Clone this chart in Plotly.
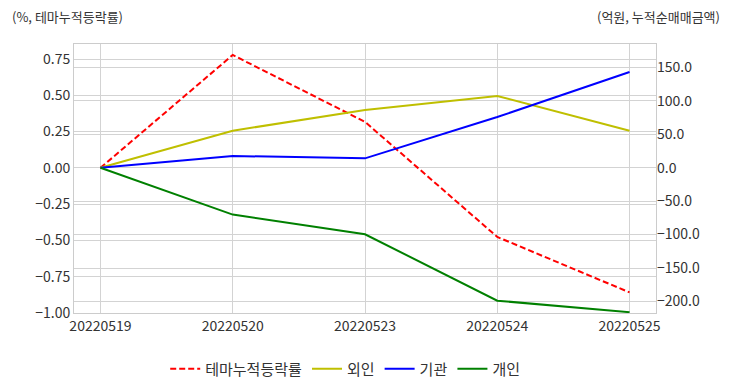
import plotly.graph_objects as go

dates = ["20220519", "20220520", "20220523", "20220524", "20220525"]
theme_rate = [0.0, 0.778, 0.317, -0.476, -0.858]
foreign = [0.0, 55.3, 86.2, 107.2, 55.3]
institution = [0.0, 17.5, 14.0, 75.7, 143.0]
individual = [0.0, -70.1, -99.5, -198.8, -216.0]

FONT = "Noto Sans CJK KR"
fig = go.Figure()
fig.add_trace(go.Scatter(x=dates, y=theme_rate, name="테마누적등락률", mode="lines",
                         line=dict(color="#ff0000", width=2, dash="6px,3px"), yaxis="y"))
fig.add_trace(go.Scatter(x=dates, y=foreign, name="외인", mode="lines",
                         line=dict(color="#bfbf00", width=2), yaxis="y2"))
fig.add_trace(go.Scatter(x=dates, y=institution, name="기관", mode="lines",
                         line=dict(color="#0000ff", width=2), yaxis="y2"))
fig.add_trace(go.Scatter(x=dates, y=individual, name="개인", mode="lines",
                         line=dict(color="#008000", width=2), yaxis="y2"))

grid = "#d3d3d3"
fig.update_layout(
    width=732, height=392,
    margin=dict(l=74, r=76, t=44, b=79, autoexpand=False),
    paper_bgcolor="white", plot_bgcolor="white",
    font=dict(family=FONT, size=14, color="#333333"),
    xaxis=dict(type="category", range=[-0.2, 4.2], showgrid=True, gridcolor=grid,
               showline=True, linecolor="#cccccc", mirror=True, ticks="", zeroline=False,
               tickfont=dict(size=14), automargin=False),
    yaxis=dict(range=[-1.0, 0.8535], tickvals=[0.75, 0.5, 0.25, 0, -0.25, -0.5, -0.75, -1.0],
               tickformat=".2f", showgrid=True, gridcolor=grid, zeroline=False,
               showline=True, linecolor="#cccccc", mirror=True, ticks="",
               tickfont=dict(size=14), automargin=False),
    yaxis2=dict(range=[-217.2, 184.9], overlaying="y", side="right",
                tickvals=[150, 100, 50, 0, -50, -100, -150, -200], tickformat=".1f",
                showgrid=True, gridcolor=grid, zeroline=False, ticks="",
                tickfont=dict(size=14), automargin=False),
    legend=dict(orientation="h", x=0.466, xanchor="center", y=-0.208, yanchor="middle",
                font=dict(size=15), bgcolor="rgba(0,0,0,0)"),
    showlegend=True,
    annotations=[
        dict(text="(%, 테마누적등락률)", xref="paper", yref="paper", x=-0.11, y=1.104,
             xanchor="left", yanchor="middle", showarrow=False, font=dict(size=13)),
        dict(text="(억원, 누적순매매금액)", xref="paper", yref="paper", x=1.113, y=1.104,
             xanchor="right", yanchor="middle", showarrow=False, font=dict(size=13)),
    ],
)
fig.write_html("out.html", config={"displayModeBar": False},
               post_script="document.body.style.margin='0';document.body.style.padding='0';")
